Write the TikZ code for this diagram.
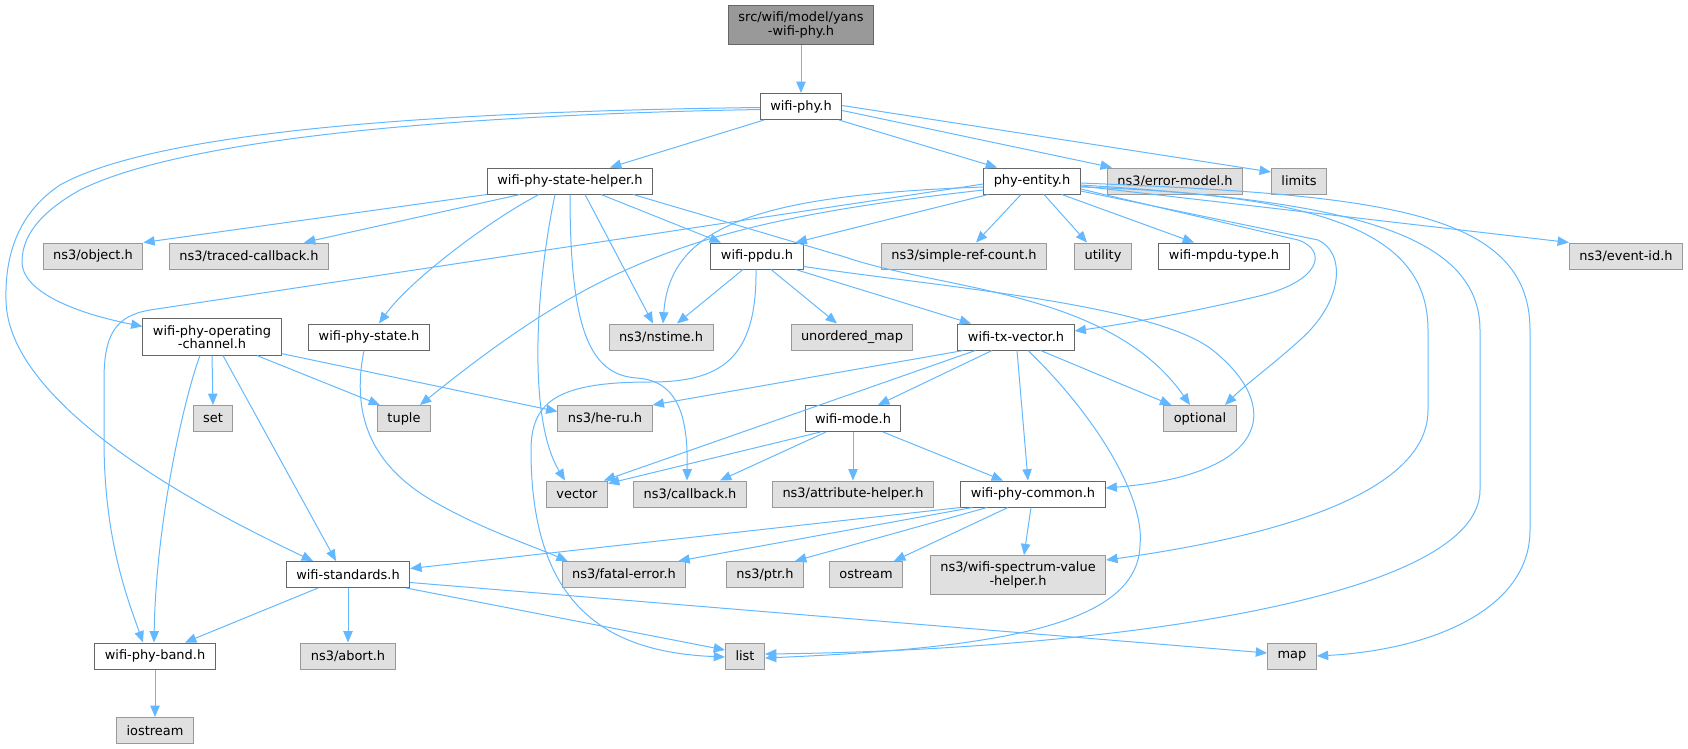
\documentclass[tikz,border=0pt]{standalone}
\usepackage{fontspec}
\setmainfont{DejaVu Sans}
\usepackage{tikz}
\usetikzlibrary{arrows.meta}
\usetikzlibrary{calc}
\definecolor{edgeblue}{HTML}{63B8FF}
\definecolor{boxgray}{HTML}{E0E0E0}
\definecolor{linegray}{HTML}{999999}
\definecolor{darkline}{HTML}{666666}

\begin{document}
\begin{tikzpicture}[x=0.75pt, y=-0.75pt,
	file_node/.style={draw=darkline, fill=white, line width=0.75pt, font=\fontsize{9.7pt}{10pt}\selectfont, minimum height=19.5pt, inner xsep=7.5pt, inner ysep=4.8pt, align=center},
	ext_node/.style={file_node, draw=linegray, fill=boxgray},
	root_node/.style={file_node, fill=linegray},
	dep/.style={color=edgeblue, line width=0.75pt, -{Triangle[length=8.5pt,width=7pt]}}]
	
	\useasboundingbox (0,0) rectangle (1688,749);
	
	\node[root_node] (yans) at (801, 25) {src/wifi/model/yans\\-wifi-phy.h};
	\node[file_node] (phy) at (801, 106.5) {wifi-phy.h};
	
	\node[file_node] (helper) at (570, 181) {wifi-phy-state-helper.h};
	\node[file_node] (entity) at (1032, 181) {phy-entity.h};
	\node[ext_node] (errmodel) at (1175, 181) {ns3/error-model.h};
	\node[ext_node] (limits) at (1299, 181) {limits};
	
	\node[ext_node] (object) at (93, 256) {ns3/object.h};
	\node[ext_node] (traced) at (249, 256) {ns3/traced-callback.h};
	\node[file_node] (ppdu) at (757, 256) {wifi-ppdu.h};
	\node[ext_node] (refcount) at (964, 256) {ns3/simple-ref-count.h};
	\node[ext_node] (utility) at (1103, 256) {utility};
	\node[file_node] (mpdutype) at (1224, 256) {wifi-mpdu-type.h};
	\node[ext_node] (eventid) at (1626, 256) {ns3/event-id.h};
	
	\node[file_node] (opchan) at (212, 337) {wifi-phy-operating\\-channel.h};
	\node[file_node] (phystate) at (369, 337) {wifi-phy-state.h};
	\node[ext_node] (nstime) at (661, 337) {ns3/nstime.h};
	\node[ext_node] (umap) at (852, 337) {unordered\_map};
	\node[file_node] (txvec) at (1016, 337) {wifi-tx-vector.h};
	
	\node[ext_node] (set) at (213, 418.5) {set};
	\node[ext_node] (tuple) at (404, 418.5) {tuple};
	\node[ext_node] (heru) at (605, 418.5) {ns3/he-ru.h};
	\node[file_node] (mode) at (853, 418.5) {wifi-mode.h};
	\node[ext_node] (optional) at (1200, 418.5) {optional};
	
	\node[ext_node] (vector) at (577, 494) {vector};
	\node[ext_node] (callback) at (690, 494) {ns3/callback.h};
	\node[ext_node] (attrhelper) at (853, 494) {ns3/attribute-helper.h};
	\node[file_node] (common) at (1033, 494) {wifi-phy-common.h};
	
	\node[file_node] (standards) at (348, 574.5) {wifi-standards.h};
	\node[ext_node] (fatal) at (624, 574.5) {ns3/fatal-error.h};
	\node[ext_node] (ptr) at (765, 574.5) {ns3/ptr.h};
	\node[ext_node] (ostream) at (866, 574.5) {ostream};
	\node[ext_node] (spectrum) at (1018, 575) {ns3/wifi-spectrum-value\\-helper.h};
	
	\node[file_node] (band) at (155, 656) {wifi-phy-band.h};
	\node[ext_node] (abort) at (348, 656) {ns3/abort.h};
	\node[ext_node] (list) at (745, 656) {list};
	\node[ext_node] (map) at (1292, 656) {map};
	
	\node[ext_node] (iostream) at (155, 730.5) {iostream};
	
	% straight dependencies
	\path[dep]
	(yans) edge (phy)
	($(phy.south)+(-37,0)$) edge ($(helper.north)+(40,0)$)
	($(phy.south)+(38,0)$) edge ($(entity.north)+(-35,0)$)
	($(phy.east)+(0,4)$) edge ($(errmodel.north west)+(5,0)$)
	($(phy.east)+(0,-1)$) edge ($(limits.west)+(0,-9)$)
	(helper.south west) edge (object.north east)
	($(helper.south)+(-50,0)$) edge ($(traced.north)+(55,0)$)
	($(helper.south)+(31,0)$) edge ($(ppdu.north)+(-36,0)$)
	($(helper.south)+(15,0)$) edge ($(nstime.north)+(-8,0)$)
	($(ppdu.south)+(-14,0)$) edge ($(nstime.north)+(16,0)$)
	($(ppdu.south)+(14,0)$) edge ($(umap.north)+(-15,0)$)
	($(ppdu.south east)+(-8,0)$) edge ($(txvec.north)+(-45,0)$)
	($(entity.south west)+(5,0)$) edge ($(ppdu.north east)+(-8,0)$)
	($(entity.south)+(-11,0)$) edge ($(refcount.north)+(12,0)$)
	($(entity.south)+(12,0)$) edge ($(utility.north)+(-16,0)$)
	($(entity.south east)+(-19,0)$) edge ($(mpdutype.north)+(-30,0)$)
	($(entity.east)+(0,5)$) edge (eventid.north west)
	($(txvec.south west)+(6,0)$) edge (heru.north east)
	($(txvec.south west)+(18,0)$) edge ($(vector.north east)+(-4,0)$)
	($(txvec.south)+(-24,0)$) edge ($(mode.north)+(25,0)$)
	($(txvec.south)+(1,0)$) edge ($(common.north)+(-5,0)$)
	($(txvec.south east)+(-34,0)$) edge ($(optional.north west)+(8,0)$)
	($(mode.south west)+(16,0)$) edge ($(vector.north east)+(0,3)$)
	($(mode.south)+(-27,0)$) edge ($(callback.north)+(30,0)$)
	(mode.south) edge (attrhelper.north)
	($(mode.south)+(30,0)$) edge ($(common.north)+(-30,0)$)
	(common.south west) edge ($(standards.east)+(0,-6)$)
	($(common.south west)+(12,0)$) edge ($(fatal.north east)+(-8,0)$)
	($(common.south)+(-46,0)$) edge ($(ptr.north)+(30,0)$)
	($(common.south)+(-25,0)$) edge ($(ostream.north)+(28,0)$)
	($(common.south)+(-2,0)$) edge ($(spectrum.north)+(6,0)$)
	($(standards.south)+(-30,0)$) edge ($(band.north)+(30,0)$)
	(standards.south) edge (abort.north)
	($(standards.south east)+(-4,0)$) edge ($(list.west)+(0,-6)$)
	($(standards.east)+(0,8)$) edge ($(map.west)+(0,-3)$)
	(band.south) edge (iostream.north)
	(opchan.south) edge (set.north)
	($(opchan.south)+(45,0)$) edge ($(tuple.north west)+(3,0)$)
	($(opchan.south east)+(0,-2)$) edge ($(heru.west)+(0,-7)$)
	($(opchan.south)+(11,0)$) edge ($(standards.north)+(-12,0)$);
	
	% routed dependencies
	\draw[dep] ($(phy.west)+(0,1)$) .. controls (400,112) and (150,135) .. (60,185) .. controls (15,215) and (5,260) .. (6,300) .. controls (7,380) and (120,470) .. ($(standards.north)+(-35,0)$);
	\draw[dep] ($(phy.west)+(0,3)$) .. controls (400,116) and (170,145) .. (80,190) .. controls (35,215) and (22,240) .. (22,262) .. controls (22,290) and (70,312) .. ($(opchan.north west)+(0,8)$);
	\draw[dep] ($(helper.south)+(-31,0)$) .. controls (490,220) and (410,280) .. ($(phystate.north)+(10,0)$);
	\draw[dep] ($(helper.south)+(-15,0)$) .. controls (535,290) and (528,420) .. ($(vector.north)+(-12,0)$);
	\draw[dep] (helper.south) .. controls (570,330) and (590,375) .. (637,378) .. controls (680,381) and (688,420) .. ($(callback.north)+(-3,0)$);
	\draw[dep] ($(helper.south east)+(-20,0)$) -- (845,257) .. controls (940,290) and (1110,290) .. ($(optional.north)+(-10,0)$);
	\draw[dep] ($(ppdu.south east)+(0,-3)$) .. controls (950,288) and (1160,305) .. (1215,352) .. controls (1285,410) and (1265,475) .. ($(common.east)+(0,-6)$);
	\draw[dep] ($(ppdu.south)+(-1,0)$) .. controls (757,360) and (720,382) .. (650,382) .. controls (560,382) and (531,400) .. (531,450) .. controls (531,600) and (600,652) .. ($(list.west)+(0,1)$);
	\draw[dep] ($(entity.west)+(0,3)$) -- (150,310) .. controls (115,316) and (104,335) .. (104,380) -- (104,440) .. controls (104,540) and (128,600) .. ($(band.north)+(-12,0)$);
	\draw[dep] ($(entity.west)+(0,6)$) .. controls (760,195) and (670,225) .. ($(nstime.north)+(2,0)$);
	\draw[dep] ($(entity.west)+(0,9)$) .. controls (700,222) and (600,260) .. ($(tuple.north)+(16,0)$);
	\draw[dep] ($(entity.east)+(0,8)$) -- (1298,240) .. controls (1328,250) and (1322,282) .. (1255,297) .. controls (1180,315) and (1110,326) .. ($(txvec.east)+(0,-6)$);
	\draw[dep] ($(entity.east)+(0,10)$) -- (1318,240) .. controls (1345,252) and (1345,300) .. (1300,340) .. controls (1270,367) and (1245,385) .. ($(optional.north)+(25,0)$);
	\draw[dep] ($(entity.east)+(0,6)$) .. controls (1330,195) and (1428,235) .. (1428,330) -- (1428,410) .. controls (1428,500) and (1250,540) .. ($(spectrum.east)+(0,-15)$);
	\draw[dep] ($(entity.east)+(0,4)$) .. controls (1320,200) and (1480,225) .. (1480,330) -- (1480,490) .. controls (1480,600) and (1100,650) .. ($(list.east)+(0,-2)$);
	\draw[dep] ($(entity.east)+(0,2)$) .. controls (1380,195) and (1530,210) .. (1530,330) -- (1530,530) .. controls (1530,610) and (1430,650) .. (map.east);
	\draw[dep] ($(txvec.south)+(12,0)$) .. controls (1100,420) and (1145,500) .. (1140,545) .. controls (1138,625) and (1000,648) .. ($(list.east)+(0,2)$);
	\draw[dep] ($(opchan.south)+(-12,0)$) .. controls (185,395) and (156,520) .. ($(band.north)+(-1,0)$);
	\draw[dep] ($(phystate.south)+(-5,0)$) .. controls (350,420) and (375,470) .. (440,505) .. controls (485,530) and (530,545) .. ($(fatal.north west)+(6,0)$);
\end{tikzpicture}
\end{document}
